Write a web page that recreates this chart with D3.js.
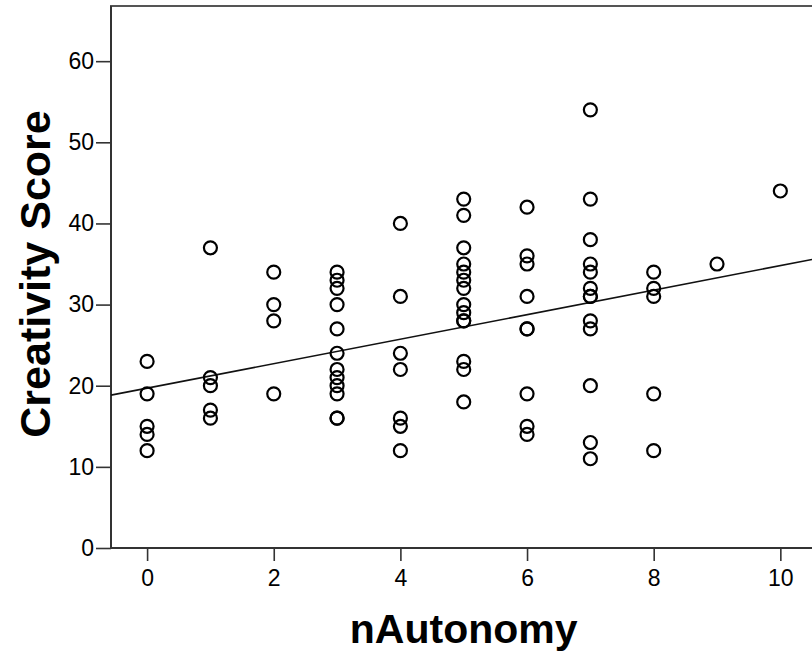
<!DOCTYPE html>
<html>
<head>
<meta charset="utf-8">
<script src="https://cdn.jsdelivr.net/npm/d3@7"></script>
<style>
  body { margin: 0; background: #fff; }
  svg { display: block; }
  text { font-family: "Liberation Sans", Arial, sans-serif; fill: #000; }
</style>
</head>
<body>
<svg width="812" height="655"></svg>
<script>
const width = 812;
const height = 655;

// nAutonomy levels and the creativity scores seen at each one
const autonomyLevels = [0, 1, 2, 3, 4, 5, 6, 7, 8, 9, 10];
const scoresByLevel = [
  [23, 19, 15, 14, 12],
  [37, 21, 20, 17, 16],
  [34, 30, 28, 19],
  [34, 33, 32, 30, 27, 24, 22, 21, 20, 19, 16, 16],
  [40, 31, 24, 22, 16, 15, 12],
  [43, 41, 37, 35, 34, 33, 32, 30, 29, 28, 28, 23, 22, 18],
  [42, 36, 35, 31, 27, 27, 19, 15, 14],
  [54, 43, 38, 35, 34, 32, 31, 31, 28, 27, 20, 13, 11],
  [34, 32, 31, 19, 12],
  [35],
  [44]
];
const xTicks = [0, 2, 4, 6, 8, 10];
const yTicks = [0, 10, 20, 30, 40, 50, 60];

// fitted line
const fitIntercept = 19.7;
const fitSlope = 1.51;

const points = [];
autonomyLevels.forEach((a, i) => {
  scoresByLevel[i].forEach(s => points.push({ x: a, y: s }));
});

const plot = { left: 111, top: 6, bottom: 548, right: 812 };

const x = d3.scaleLinear([-0.57, 10.5], [plot.left, plot.right]);
const y = d3.scaleLinear([0, 66.8], [plot.bottom, plot.top]);

const svg = d3.select("svg");

// frame (right side runs off the page)
svg.append("path")
  .attr("fill", "none")
  .attr("stroke", "#555")
  .attr("stroke-width", 2)
  .attr("d", `M${plot.left},${plot.bottom} V${plot.top} H${width + 5}`);

// axes
const xAxis = svg.append("g")
  .attr("transform", `translate(0,${plot.bottom})`)
  .call(d3.axisBottom(x).tickValues(xTicks).tickSize(13).tickPadding(9).tickFormat(d3.format("d")));
xAxis.select(".domain").remove();
xAxis.append("line")
  .attr("x1", plot.left).attr("x2", width + 5)
  .attr("stroke", "#333").attr("stroke-width", 2);

const yAxis = svg.append("g")
  .attr("transform", `translate(${plot.left},0)`)
  .call(d3.axisLeft(y).tickValues(yTicks).tickSize(15).tickPadding(2).tickFormat(d3.format("d")));
yAxis.select(".domain")
  .attr("d", `M0,${plot.bottom}V${plot.top}`)
  .attr("stroke", "#333").attr("stroke-width", 2);

svg.selectAll(".tick line").attr("stroke", "#333").attr("stroke-width", 1.6);
svg.selectAll(".tick text")
  .style("font-size", "23px")
  .style("font-family", "Liberation Sans, Arial, sans-serif")
  .attr("fill", "#000");

// fit line
const xd = x.domain();
svg.append("line")
  .attr("x1", x(xd[0])).attr("y1", y(fitIntercept + fitSlope * xd[0]))
  .attr("x2", x(xd[1])).attr("y2", y(fitIntercept + fitSlope * xd[1]))
  .attr("stroke", "#111")
  .attr("stroke-width", 1.6);

// points
svg.append("g")
  .selectAll("circle")
  .data(points)
  .join("circle")
    .attr("cx", d => x(d.x))
    .attr("cy", d => y(d.y))
    .attr("r", 6.5)
    .attr("fill", "none")
    .attr("stroke", "#000")
    .attr("stroke-width", 2.2);

// axis titles
svg.append("text")
  .attr("x", (x(0) + x(10)) / 2)
  .attr("y", 643)
  .attr("text-anchor", "middle")
  .attr("font-size", 41)
  .attr("font-weight", "bold")
  .text("nAutonomy");

svg.append("text")
  .attr("transform", `translate(50,${(108 + 440) / 2}) rotate(-90)`)
  .attr("text-anchor", "middle")
  .attr("font-size", 43)
  .attr("font-weight", "bold")
  .text("Creativity Score");
</script>
</body>
</html>
